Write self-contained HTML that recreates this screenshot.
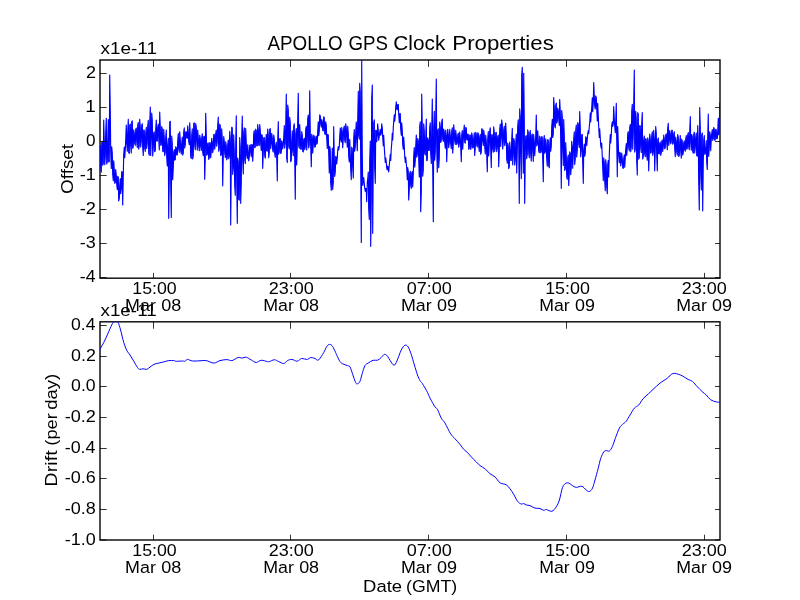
<!DOCTYPE html>
<html><head><meta charset="utf-8"><title>APOLLO GPS Clock Properties</title>
<style>html,body{margin:0;padding:0;background:#fff;width:800px;height:600px;overflow:hidden}svg{display:block;will-change:transform}text{font-family:"Liberation Sans",sans-serif}</style>
</head><body>
<svg width="800" height="600" viewBox="0 0 800 600">
<rect width="800" height="600" fill="#fff"/>
<rect x="100" y="60.0" width="620" height="218.18" fill="none" stroke="#000" stroke-width="1.39"/>
<rect x="100" y="321.82" width="620" height="218.18" fill="none" stroke="#000" stroke-width="1.39"/>
<clipPath id="c1"><rect x="100" y="60.0" width="620" height="218.18"/></clipPath>
<clipPath id="c2"><rect x="100" y="321.82" width="620" height="218.18"/></clipPath>
<path clip-path="url(#c1)" d="M100.30,144.95 L100.70,166.60 L101.30,172.09 L101.70,142.76 L102.30,141.63 L102.70,165.19 L103.30,163.52 L103.70,120.00 L104.30,141.14 L104.70,164.66 L105.30,156.85 L105.70,132.49 L106.30,118.33 L106.70,164.03 L107.30,161.68 L107.70,141.80 L108.30,119.62 L108.70,162.04 L109.30,161.50 L109.70,75.00 L110.30,109.95 L110.70,151.37 L111.30,168.42 L111.70,146.78 L112.30,153.20 L112.70,174.53 L113.30,180.75 L113.70,160.78 L114.30,170.04 L114.70,183.22 L115.30,182.63 L115.70,169.47 L116.30,175.69 L116.70,183.98 L117.30,189.57 L117.70,176.35 L118.30,177.04 L118.70,200.87 L119.30,198.69 L119.70,185.86 L120.30,178.51 L120.70,193.73 L121.30,188.79 L121.70,171.54 L122.30,172.39 L122.70,205.00 L123.30,174.88 L123.70,154.65 L124.30,147.19 L124.70,157.64 L125.30,149.40 L125.70,140.12 L126.30,125.02 L126.70,142.80 L127.30,151.16 L127.70,132.52 L128.30,119.35 L128.70,152.68 L129.30,153.34 L129.70,125.26 L130.30,124.07 L130.70,146.13 L131.30,152.86 L131.70,121.82 L132.30,120.91 L132.70,148.36 L133.30,146.78 L133.70,129.89 L134.30,133.10 L134.70,143.58 L135.30,145.36 L135.70,129.49 L136.30,128.03 L136.70,141.58 L137.30,147.41 L137.70,125.24 L138.30,122.47 L138.70,149.06 L139.30,145.47 L139.70,119.20 L140.30,127.13 L140.70,146.87 L141.30,141.22 L141.70,125.23 L142.30,123.67 L142.70,147.50 L143.30,155.47 L143.70,129.97 L144.30,130.32 L144.70,148.32 L145.30,151.41 L145.70,133.34 L146.30,127.34 L146.70,148.37 L147.30,142.60 L147.70,126.08 L148.30,120.24 L148.70,153.09 L149.30,155.27 L149.70,123.97 L150.30,107.11 L150.70,155.43 L151.30,139.54 L151.70,113.14 L152.30,120.32 L152.70,155.97 L153.30,147.49 L153.70,132.98 L154.30,131.90 L154.70,151.73 L155.30,150.72 L155.70,129.25 L156.30,119.99 L156.70,140.96 L157.30,141.18 L157.70,127.47 L158.30,124.10 L158.70,138.11 L159.30,149.81 L159.70,111.99 L160.30,127.17 L160.70,145.34 L161.30,144.80 L161.70,126.51 L162.30,129.23 L162.70,151.08 L163.30,151.75 L163.70,129.24 L164.30,137.93 L164.70,155.45 L165.30,152.31 L165.70,137.09 L166.30,129.99 L166.70,156.93 L167.30,165.88 L167.70,145.24 L168.30,138.37 L168.70,218.33 L169.30,178.08 L169.70,121.94 L170.30,121.45 L170.70,184.14 L171.30,217.50 L171.70,136.09 L172.30,143.51 L172.70,179.71 L173.30,167.17 L173.70,152.27 L174.30,149.57 L174.70,160.11 L175.30,159.58 L175.70,146.72 L176.30,147.70 L176.70,155.01 L177.30,154.86 L177.70,141.30 L178.30,133.53 L178.70,148.99 L179.30,152.36 L179.70,131.86 L180.30,139.70 L180.70,150.75 L181.30,153.87 L181.70,143.35 L182.30,136.97 L182.70,155.06 L183.30,153.14 L183.70,131.84 L184.30,127.90 L184.70,148.11 L185.30,144.61 L185.70,131.71 L186.30,131.79 L186.70,137.64 L187.30,138.41 L187.70,125.83 L188.30,132.32 L188.70,141.29 L189.30,144.75 L189.70,122.78 L190.30,135.73 L190.70,156.76 L191.30,158.45 L191.70,135.40 L192.30,128.89 L192.70,158.92 L193.30,155.86 L193.70,123.26 L194.30,122.95 L194.70,145.32 L195.30,149.72 L195.70,123.63 L196.30,127.12 L196.70,142.08 L197.30,150.09 L197.70,130.17 L198.30,137.80 L198.70,146.26 L199.30,150.79 L199.70,135.21 L200.30,138.31 L200.70,146.72 L201.30,150.54 L201.70,137.93 L202.30,133.77 L202.70,152.17 L203.30,155.77 L203.70,136.69 L204.30,136.27 L204.70,179.17 L205.30,157.80 L205.70,113.33 L206.30,134.20 L206.70,155.20 L207.30,154.65 L207.70,143.23 L208.30,143.04 L208.70,159.32 L209.30,157.96 L209.70,142.62 L210.30,142.94 L210.70,157.68 L211.30,151.10 L211.70,138.39 L212.30,142.32 L212.70,152.68 L213.30,148.76 L213.70,134.80 L214.30,134.31 L214.70,149.16 L215.30,144.26 L215.70,133.51 L216.30,130.19 L216.70,146.18 L217.30,141.69 L217.70,125.66 L218.30,117.19 L218.70,151.26 L219.30,149.11 L219.70,124.11 L220.30,125.64 L220.70,155.48 L221.30,154.36 L221.70,128.88 L222.30,139.73 L222.70,185.83 L223.30,155.74 L223.70,136.60 L224.30,141.18 L224.70,153.00 L225.30,157.53 L225.70,141.79 L226.30,145.59 L226.70,159.83 L227.30,157.53 L227.70,144.93 L228.30,140.10 L228.70,158.69 L229.30,155.47 L229.70,131.43 L230.30,138.21 L230.70,225.00 L231.30,161.16 L231.70,127.28 L232.30,127.87 L232.70,174.34 L233.30,167.67 L233.70,134.76 L234.30,150.99 L234.70,186.29 L235.30,195.23 L235.70,144.29 L236.30,115.83 L236.70,179.76 L237.30,223.33 L237.70,157.97 L238.30,161.85 L238.70,199.56 L239.30,200.18 L239.70,137.62 L240.30,147.39 L240.70,203.33 L241.30,182.09 L241.70,137.00 L242.30,116.17 L242.70,160.57 L243.30,173.96 L243.70,132.48 L244.30,127.71 L244.70,159.89 L245.30,163.62 L245.70,128.45 L246.30,143.57 L246.70,155.33 L247.30,158.65 L247.70,144.81 L248.30,152.17 L248.70,160.80 L249.30,157.05 L249.70,145.44 L250.30,144.87 L250.70,152.65 L251.30,156.73 L251.70,144.46 L252.30,144.74 L252.70,161.27 L253.30,150.15 L253.70,133.66 L254.30,130.64 L254.70,147.60 L255.30,147.17 L255.70,129.15 L256.30,130.55 L256.70,145.73 L257.30,146.02 L257.70,124.66 L258.30,129.29 L258.70,145.12 L259.30,145.47 L259.70,124.63 L260.30,130.67 L260.70,143.75 L261.30,150.34 L261.70,134.54 L262.30,135.85 L262.70,168.33 L263.30,151.97 L263.70,137.74 L264.30,137.51 L264.70,155.78 L265.30,158.12 L265.70,141.25 L266.30,134.38 L266.70,150.85 L267.30,151.22 L267.70,129.07 L268.30,134.67 L268.70,157.65 L269.30,152.52 L269.70,129.38 L270.30,128.70 L270.70,148.65 L271.30,143.69 L271.70,133.22 L272.30,137.94 L272.70,150.39 L273.30,152.07 L273.70,135.12 L274.30,138.54 L274.70,153.62 L275.30,157.31 L275.70,145.31 L276.30,142.38 L276.70,157.32 L277.30,180.83 L277.70,141.16 L278.30,121.67 L278.70,154.10 L279.30,151.53 L279.70,138.82 L280.30,138.65 L280.70,153.45 L281.30,152.73 L281.70,140.74 L282.30,143.02 L282.70,148.82 L283.30,144.73 L283.70,137.90 L284.30,125.61 L284.70,148.09 L285.30,142.82 L285.70,126.47 L286.30,94.17 L286.70,158.69 L287.30,162.42 L287.70,105.07 L288.30,109.71 L288.70,146.27 L289.30,148.92 L289.70,117.29 L290.30,122.58 L290.70,161.60 L291.30,160.58 L291.70,141.51 L292.30,130.87 L292.70,150.44 L293.30,155.70 L293.70,126.42 L294.30,123.73 L294.70,158.26 L295.30,199.17 L295.70,134.31 L296.30,128.55 L296.70,164.88 L297.30,145.37 L297.70,120.15 L298.30,93.33 L298.70,145.69 L299.30,148.25 L299.70,124.58 L300.30,136.14 L300.70,149.30 L301.30,149.24 L301.70,131.54 L302.30,135.23 L302.70,151.33 L303.30,151.88 L303.70,139.41 L304.30,138.35 L304.70,149.60 L305.30,147.01 L305.70,128.85 L306.30,126.35 L306.70,149.92 L307.30,140.53 L307.70,118.56 L308.30,114.99 L308.70,147.91 L309.30,144.77 L309.70,90.83 L310.30,133.01 L310.70,145.63 L311.30,166.67 L311.70,134.21 L312.30,136.98 L312.70,153.06 L313.30,144.66 L313.70,135.30 L314.30,136.27 L314.70,147.07 L315.30,146.88 L315.70,137.91 L316.30,136.01 L316.70,144.11 L317.30,143.04 L317.70,130.84 L318.30,121.82 L318.70,135.78 L319.30,131.43 L319.70,114.90 L320.30,116.08 L320.70,123.83 L321.30,127.18 L321.70,119.48 L322.30,121.79 L322.70,130.48 L323.30,130.81 L323.70,116.87 L324.30,117.90 L324.70,133.57 L325.30,134.62 L325.70,121.77 L326.30,125.15 L326.70,137.62 L327.30,148.49 L327.70,134.55 L328.30,134.89 L328.70,153.90 L329.30,173.10 L329.70,146.25 L330.30,149.79 L330.70,182.98 L331.30,190.23 L331.70,171.19 L332.30,148.13 L332.70,189.55 L333.30,182.51 L333.70,126.67 L334.30,157.63 L334.70,176.48 L335.30,171.78 L335.70,156.38 L336.30,157.58 L336.70,163.85 L337.30,157.59 L337.70,150.33 L338.30,146.54 L338.70,149.84 L339.30,146.19 L339.70,136.91 L340.30,128.05 L340.70,139.33 L341.30,142.19 L341.70,127.60 L342.30,131.24 L342.70,147.62 L343.30,138.83 L343.70,128.11 L344.30,126.15 L344.70,140.44 L345.30,142.73 L345.70,123.86 L346.30,127.80 L346.70,138.05 L347.30,147.26 L347.70,126.23 L348.30,133.38 L348.70,156.55 L349.30,161.84 L349.70,139.22 L350.30,154.48 L350.70,169.57 L351.30,179.65 L351.70,147.19 L352.30,149.22 L352.70,167.59 L353.30,178.05 L353.70,138.09 L354.30,129.66 L354.70,151.24 L355.30,146.37 L355.70,132.18 L356.30,122.04 L356.70,140.00 L357.30,150.69 L357.70,119.71 L358.30,91.43 L358.70,135.65 L359.30,139.19 L359.70,83.24 L360.30,91.62 L360.70,164.00 L361.30,242.50 L361.70,60.00 L362.30,154.59 L362.70,185.37 L363.30,179.91 L363.70,177.56 L364.30,183.92 L364.70,187.89 L365.30,191.33 L365.70,188.23 L366.30,189.16 L366.70,201.67 L367.30,182.08 L367.70,179.26 L368.30,172.00 L368.70,208.99 L369.30,219.37 L369.70,161.09 L370.30,141.12 L370.70,246.33 L371.30,198.12 L371.70,98.33 L372.30,85.00 L372.70,233.33 L373.30,158.21 L373.70,123.15 L374.30,119.88 L374.70,169.32 L375.30,183.33 L375.70,130.22 L376.30,130.50 L376.70,141.79 L377.30,135.09 L377.70,123.74 L378.30,130.95 L378.70,140.17 L379.30,136.01 L379.70,132.46 L380.30,129.45 L380.70,135.23 L381.30,133.22 L381.70,123.78 L382.30,127.98 L382.70,136.96 L383.30,145.64 L383.70,135.39 L384.30,147.73 L384.70,154.11 L385.30,162.45 L385.70,157.75 L386.30,162.12 L386.70,167.77 L387.30,170.01 L387.70,166.09 L388.30,167.98 L388.70,171.83 L389.30,164.96 L389.70,161.27 L390.30,154.32 L390.70,160.40 L391.30,148.30 L391.70,144.21 L392.30,133.37 L392.70,139.90 L393.30,127.38 L393.70,121.76 L394.30,114.77 L394.70,121.20 L395.30,115.64 L395.70,107.59 L396.30,101.94 L396.70,108.70 L397.30,109.79 L397.70,104.49 L398.30,104.45 L398.70,113.90 L399.30,122.84 L399.70,113.70 L400.30,113.67 L400.70,129.21 L401.30,135.24 L401.70,122.94 L402.30,130.83 L402.70,144.68 L403.30,149.09 L403.70,137.06 L404.30,146.55 L404.70,156.53 L405.30,162.39 L405.70,157.07 L406.30,163.75 L406.70,167.74 L407.30,179.62 L407.70,167.47 L408.30,171.33 L408.70,200.00 L409.30,189.60 L409.70,173.74 L410.30,171.27 L410.70,185.51 L411.30,188.43 L411.70,172.95 L412.30,171.67 L412.70,187.01 L413.30,174.46 L413.70,155.78 L414.30,147.55 L414.70,167.11 L415.30,160.66 L415.70,146.52 L416.30,135.04 L416.70,157.15 L417.30,154.60 L417.70,138.53 L418.30,140.57 L418.70,158.50 L419.30,177.08 L419.70,126.27 L420.30,121.84 L420.70,211.67 L421.30,192.55 L421.70,94.17 L422.30,127.05 L422.70,176.28 L423.30,170.14 L423.70,123.73 L424.30,130.88 L424.70,153.78 L425.30,155.06 L425.70,137.30 L426.30,119.17 L426.70,160.59 L427.30,160.18 L427.70,137.88 L428.30,140.27 L428.70,150.44 L429.30,150.43 L429.70,127.23 L430.30,122.94 L430.70,153.43 L431.30,163.46 L431.70,131.64 L432.30,99.17 L432.70,168.10 L433.30,221.67 L433.70,128.37 L434.30,111.36 L434.70,160.19 L435.30,152.17 L435.70,119.58 L436.30,79.17 L436.70,146.49 L437.30,172.21 L437.70,130.69 L438.30,128.86 L438.70,167.67 L439.30,157.94 L439.70,122.13 L440.30,126.55 L440.70,142.47 L441.30,140.24 L441.70,121.91 L442.30,118.96 L442.70,138.83 L443.30,141.46 L443.70,129.12 L444.30,132.04 L444.70,142.48 L445.30,148.25 L445.70,130.07 L446.30,135.08 L446.70,161.67 L447.30,143.05 L447.70,129.36 L448.30,134.59 L448.70,147.68 L449.30,142.92 L449.70,129.44 L450.30,135.40 L450.70,143.95 L451.30,148.70 L451.70,131.27 L452.30,127.73 L452.70,153.07 L453.30,144.41 L453.70,124.82 L454.30,131.00 L454.70,140.96 L455.30,144.45 L455.70,130.33 L456.30,135.82 L456.70,144.43 L457.30,142.98 L457.70,135.21 L458.30,133.19 L458.70,147.15 L459.30,143.71 L459.70,131.96 L460.30,137.94 L460.70,147.12 L461.30,161.67 L461.70,135.49 L462.30,130.58 L462.70,149.27 L463.30,139.77 L463.70,131.44 L464.30,125.14 L464.70,142.18 L465.30,143.12 L465.70,127.56 L466.30,127.92 L466.70,139.77 L467.30,139.96 L467.70,134.07 L468.30,134.42 L468.70,149.30 L469.30,148.18 L469.70,135.06 L470.30,135.08 L470.70,149.51 L471.30,146.33 L471.70,132.90 L472.30,135.60 L472.70,147.93 L473.30,147.61 L473.70,138.41 L474.30,132.78 L474.70,155.49 L475.30,147.42 L475.70,132.37 L476.30,134.02 L476.70,145.29 L477.30,146.89 L477.70,132.87 L478.30,133.26 L478.70,146.75 L479.30,151.46 L479.70,136.89 L480.30,134.37 L480.70,154.14 L481.30,152.35 L481.70,128.75 L482.30,128.97 L482.70,141.16 L483.30,145.51 L483.70,130.20 L484.30,134.83 L484.70,146.49 L485.30,154.01 L485.70,135.38 L486.30,141.44 L486.70,154.85 L487.30,171.67 L487.70,139.26 L488.30,131.53 L488.70,155.92 L489.30,145.06 L489.70,130.86 L490.30,127.83 L490.70,149.76 L491.30,167.50 L491.70,134.69 L492.30,134.91 L492.70,148.57 L493.30,152.19 L493.70,126.76 L494.30,132.58 L494.70,151.43 L495.30,147.37 L495.70,132.77 L496.30,132.46 L496.70,151.75 L497.30,146.93 L497.70,136.40 L498.30,135.18 L498.70,166.67 L499.30,150.26 L499.70,129.71 L500.30,124.12 L500.70,146.53 L501.30,137.20 L501.70,119.95 L502.30,124.58 L502.70,148.96 L503.30,141.97 L503.70,130.19 L504.30,126.42 L504.70,145.56 L505.30,142.69 L505.70,122.96 L506.30,134.50 L506.70,159.19 L507.30,163.23 L507.70,143.05 L508.30,145.78 L508.70,168.59 L509.30,166.90 L509.70,142.12 L510.30,149.58 L510.70,160.48 L511.30,160.48 L511.70,139.43 L512.30,128.33 L512.70,164.81 L513.30,154.47 L513.70,138.51 L514.30,140.62 L514.70,165.10 L515.30,160.40 L515.70,143.63 L516.30,134.16 L516.70,173.05 L517.30,150.70 L517.70,126.34 L518.30,119.81 L518.70,145.31 L519.30,203.33 L519.70,108.75 L520.30,116.82 L520.70,155.69 L521.30,178.56 L521.70,74.74 L522.30,67.31 L522.70,139.69 L523.30,173.25 L523.70,73.33 L524.30,120.89 L524.70,203.33 L525.30,152.77 L525.70,136.47 L526.30,135.69 L526.70,158.78 L527.30,154.34 L527.70,129.83 L528.30,132.40 L528.70,152.83 L529.30,157.70 L529.70,133.09 L530.30,130.51 L530.70,154.44 L531.30,161.01 L531.70,135.37 L532.30,134.04 L532.70,150.70 L533.30,161.34 L533.70,134.45 L534.30,142.52 L534.70,155.76 L535.30,146.78 L535.70,136.52 L536.30,115.00 L536.70,145.92 L537.30,143.96 L537.70,130.83 L538.30,140.63 L538.70,151.06 L539.30,152.78 L539.70,136.10 L540.30,138.26 L540.70,152.62 L541.30,151.79 L541.70,136.66 L542.30,136.93 L542.70,158.99 L543.30,181.67 L543.70,139.98 L544.30,135.53 L544.70,153.23 L545.30,151.68 L545.70,138.91 L546.30,144.24 L546.70,158.94 L547.30,166.11 L547.70,139.61 L548.30,140.06 L548.70,165.80 L549.30,167.76 L549.70,144.17 L550.30,137.86 L550.70,151.30 L551.30,146.53 L551.70,127.21 L552.30,119.36 L552.70,137.53 L553.30,134.17 L553.70,97.50 L554.30,106.93 L554.70,126.10 L555.30,127.86 L555.70,105.45 L556.30,103.10 L556.70,123.16 L557.30,121.61 L557.70,108.01 L558.30,110.53 L558.70,118.84 L559.30,125.35 L559.70,99.46 L560.30,111.82 L560.70,139.31 L561.30,188.33 L561.70,110.46 L562.30,116.52 L562.70,148.97 L563.30,165.37 L563.70,119.62 L564.30,135.92 L564.70,170.54 L565.30,168.92 L565.70,142.67 L566.30,155.77 L566.70,176.53 L567.30,179.31 L567.70,157.81 L568.30,155.08 L568.70,185.54 L569.30,173.51 L569.70,151.78 L570.30,153.48 L570.70,174.70 L571.30,167.42 L571.70,141.40 L572.30,146.51 L572.70,168.29 L573.30,155.28 L573.70,138.53 L574.30,131.89 L574.70,164.54 L575.30,158.94 L575.70,130.31 L576.30,125.01 L576.70,156.99 L577.30,150.39 L577.70,122.66 L578.30,123.72 L578.70,144.16 L579.30,147.65 L579.70,111.67 L580.30,128.11 L580.70,156.78 L581.30,150.77 L581.70,134.83 L582.30,134.53 L582.70,163.03 L583.30,183.33 L583.70,150.01 L584.30,144.01 L584.70,156.17 L585.30,153.18 L585.70,136.82 L586.30,137.87 L586.70,145.58 L587.30,139.26 L587.70,134.11 L588.30,130.71 L588.70,133.72 L589.30,126.59 L589.70,123.03 L590.30,112.95 L590.70,121.67 L591.30,112.75 L591.70,108.12 L592.30,97.88 L592.70,111.63 L593.30,102.32 L593.70,82.50 L594.30,96.64 L594.70,105.88 L595.30,109.02 L595.70,95.91 L596.30,97.59 L596.70,108.84 L597.30,120.87 L597.70,103.40 L598.30,116.52 L598.70,126.94 L599.30,137.44 L599.70,128.92 L600.30,138.28 L600.70,145.10 L601.30,148.28 L601.70,143.18 L602.30,156.97 L602.70,167.42 L603.30,180.56 L603.70,157.85 L604.30,162.39 L604.70,180.90 L605.30,190.63 L605.70,159.70 L606.30,164.91 L606.70,187.02 L607.30,193.79 L607.70,164.94 L608.30,160.45 L608.70,176.89 L609.30,154.99 L609.70,144.41 L610.30,134.54 L610.70,142.90 L611.30,135.19 L611.70,125.36 L612.30,121.93 L612.70,126.36 L613.30,123.52 L613.70,106.67 L614.30,118.88 L614.70,126.21 L615.30,132.71 L615.70,121.74 L616.30,103.33 L616.70,137.90 L617.30,176.67 L617.70,126.53 L618.30,143.18 L618.70,155.79 L619.30,162.76 L619.70,152.26 L620.30,153.30 L620.70,165.85 L621.30,161.96 L621.70,153.15 L622.30,158.43 L622.70,168.02 L623.30,168.32 L623.70,158.87 L624.30,154.78 L624.70,167.19 L625.30,157.82 L625.70,149.21 L626.30,143.60 L626.70,155.38 L627.30,148.25 L627.70,133.67 L628.30,131.59 L628.70,147.65 L629.30,150.94 L629.70,127.37 L630.30,124.25 L630.70,151.70 L631.30,147.19 L631.70,111.32 L632.30,104.28 L632.70,149.14 L633.30,132.94 L633.70,104.24 L634.30,70.00 L634.70,152.07 L635.30,149.68 L635.70,111.39 L636.30,119.43 L636.70,160.89 L637.30,175.00 L637.70,112.58 L638.30,114.19 L638.70,159.15 L639.30,157.44 L639.70,125.50 L640.30,125.92 L640.70,147.62 L641.30,152.47 L641.70,123.25 L642.30,112.50 L642.70,159.00 L643.30,156.58 L643.70,140.44 L644.30,136.13 L644.70,154.17 L645.30,156.70 L645.70,138.54 L646.30,139.71 L646.70,155.50 L647.30,160.27 L647.70,137.82 L648.30,140.62 L648.70,170.83 L649.30,152.16 L649.70,133.96 L650.30,138.51 L650.70,153.28 L651.30,152.14 L651.70,135.55 L652.30,131.76 L652.70,155.33 L653.30,151.89 L653.70,130.35 L654.30,139.11 L654.70,170.83 L655.30,149.50 L655.70,126.58 L656.30,133.28 L656.70,154.57 L657.30,170.83 L657.70,139.86 L658.30,137.96 L658.70,153.65 L659.30,153.80 L659.70,143.56 L660.30,142.07 L660.70,155.32 L661.30,152.80 L661.70,142.01 L662.30,139.95 L662.70,151.39 L663.30,146.87 L663.70,135.18 L664.30,138.56 L664.70,148.67 L665.30,147.60 L665.70,135.30 L666.30,133.76 L666.70,142.62 L667.30,149.76 L667.70,127.93 L668.30,123.40 L668.70,145.34 L669.30,140.83 L669.70,130.50 L670.30,133.94 L670.70,143.80 L671.30,142.02 L671.70,130.34 L672.30,130.29 L672.70,144.14 L673.30,143.26 L673.70,133.67 L674.30,131.84 L674.70,148.36 L675.30,156.56 L675.70,136.99 L676.30,141.08 L676.70,151.93 L677.30,155.14 L677.70,134.55 L678.30,136.84 L678.70,156.37 L679.30,155.19 L679.70,142.06 L680.30,135.55 L680.70,151.09 L681.30,158.07 L681.70,139.06 L682.30,141.40 L682.70,155.11 L683.30,152.84 L683.70,143.16 L684.30,140.91 L684.70,150.01 L685.30,151.14 L685.70,139.03 L686.30,135.63 L686.70,149.12 L687.30,148.61 L687.70,134.82 L688.30,132.53 L688.70,147.09 L689.30,149.66 L689.70,131.86 L690.30,116.67 L690.70,142.90 L691.30,150.09 L691.70,134.46 L692.30,136.64 L692.70,151.48 L693.30,153.24 L693.70,134.39 L694.30,132.19 L694.70,152.92 L695.30,147.37 L695.70,136.98 L696.30,133.14 L696.70,155.63 L697.30,156.12 L697.70,125.51 L698.30,139.05 L698.70,181.40 L699.30,210.00 L699.70,107.50 L700.30,127.46 L700.70,174.30 L701.30,190.04 L701.70,134.62 L702.30,133.06 L702.70,210.83 L703.30,161.40 L703.70,140.02 L704.30,135.53 L704.70,154.30 L705.30,154.06 L705.70,148.87 L706.30,140.67 L706.70,162.30 L707.30,169.51 L707.70,138.52 L708.30,114.17 L708.70,156.33 L709.30,147.64 L709.70,131.75 L710.30,135.41 L710.70,150.79 L711.30,139.37 L711.70,133.50 L712.30,129.60 L712.70,140.35 L713.30,138.46 L713.70,127.49 L714.30,129.01 L714.70,140.28 L715.30,140.07 L715.70,129.26 L716.30,129.83 L716.70,138.64 L717.30,138.48 L717.70,131.82 L718.30,118.23 L718.70,134.66 L719.30,133.22 L719.70,102.50" fill="none" stroke="#00f" stroke-width="1.15" stroke-linejoin="round"/>
<path clip-path="url(#c2)" d="M100.00,349.40 C100.83,347.83 103.33,343.44 105.00,340.00 C106.67,336.56 108.65,331.67 110.00,328.75 C111.35,325.83 112.17,323.71 113.10,322.50 C114.03,321.29 114.77,321.50 115.60,321.50 C116.43,321.50 117.27,321.08 118.10,322.50 C118.93,323.92 119.66,326.67 120.60,330.00 C121.54,333.33 122.70,339.07 123.75,342.50 C124.80,345.93 125.86,348.52 126.90,350.60 C127.94,352.68 128.86,353.23 130.00,355.00 C131.14,356.77 132.50,359.17 133.75,361.25 C135.00,363.33 136.46,366.14 137.50,367.50 C138.54,368.86 139.07,369.19 140.00,369.40 C140.93,369.61 142.06,368.75 143.10,368.75 C144.14,368.75 145.31,369.51 146.25,369.40 C147.19,369.29 147.50,368.93 148.75,368.10 C150.00,367.27 152.08,365.23 153.75,364.40 C155.42,363.57 157.08,363.52 158.75,363.10 C160.42,362.68 162.08,362.32 163.75,361.90 C165.42,361.48 167.08,360.82 168.75,360.60 C170.42,360.38 172.50,360.49 173.75,360.60 C175.00,360.71 174.79,361.18 176.25,361.25 C177.71,361.32 181.04,361.00 182.50,361.00 C183.96,361.00 184.17,361.52 185.00,361.25 C185.83,360.98 186.25,359.44 187.50,359.40 C188.75,359.36 190.42,360.77 192.50,361.00 C194.58,361.23 197.71,360.87 200.00,360.80 C202.29,360.73 203.96,360.22 206.25,360.60 C208.54,360.98 211.46,363.10 213.75,363.10 C216.04,363.10 217.81,361.18 220.00,360.60 C222.19,360.02 224.92,359.60 226.90,359.60 C228.88,359.60 230.03,360.95 231.90,360.60 C233.77,360.25 236.43,357.92 238.10,357.50 C239.77,357.08 240.54,358.14 241.90,358.10 C243.26,358.06 244.69,356.93 246.25,357.25 C247.81,357.57 249.58,359.12 251.25,360.00 C252.92,360.88 254.58,362.46 256.25,362.50 C257.92,362.54 259.38,360.40 261.25,360.25 C263.12,360.10 266.14,361.38 267.50,361.60 C268.86,361.83 268.25,361.91 269.40,361.60 C270.55,361.29 272.84,359.75 274.40,359.75 C275.96,359.75 277.19,360.98 278.75,361.60 C280.31,362.23 282.29,363.67 283.75,363.50 C285.21,363.33 286.14,361.28 287.50,360.60 C288.86,359.92 290.33,359.29 291.90,359.40 C293.47,359.51 295.55,361.25 296.90,361.25 C298.25,361.25 299.17,359.86 300.00,359.40 C300.83,358.94 300.65,358.50 301.90,358.50 C303.15,358.50 306.05,359.57 307.50,359.40 C308.95,359.23 309.35,357.65 310.60,357.50 C311.85,357.35 313.68,358.08 315.00,358.50 C316.32,358.92 317.04,361.00 318.50,360.00 C319.96,359.00 322.35,354.79 323.75,352.50 C325.15,350.21 325.90,347.60 326.90,346.25 C327.90,344.90 328.82,344.40 329.75,344.40 C330.68,344.40 331.52,344.90 332.50,346.25 C333.48,347.60 334.45,350.11 335.60,352.50 C336.75,354.89 338.25,358.73 339.40,360.60 C340.55,362.48 341.15,362.92 342.50,363.75 C343.85,364.58 346.25,365.08 347.50,365.60 C348.75,366.12 349.17,365.54 350.00,366.90 C350.83,368.26 351.57,371.15 352.50,373.75 C353.43,376.35 354.77,380.83 355.60,382.50 C356.43,384.17 356.77,383.96 357.50,383.75 C358.23,383.54 359.17,383.12 360.00,381.25 C360.83,379.38 361.67,375.11 362.50,372.50 C363.33,369.89 364.07,367.17 365.00,365.60 C365.93,364.03 366.75,363.99 368.10,363.10 C369.45,362.21 371.53,360.73 373.10,360.25 C374.67,359.77 376.14,360.71 377.50,360.25 C378.86,359.79 380.10,358.48 381.25,357.50 C382.40,356.52 383.36,354.61 384.40,354.40 C385.44,354.19 386.05,354.52 387.50,356.25 C388.95,357.98 391.64,363.71 393.10,364.75 C394.56,365.79 394.89,364.96 396.25,362.50 C397.61,360.04 399.79,352.88 401.25,350.00 C402.71,347.12 403.86,345.77 405.00,345.25 C406.14,344.73 407.06,345.38 408.10,346.90 C409.14,348.42 410.20,351.38 411.25,354.40 C412.30,357.42 413.36,361.57 414.40,365.00 C415.44,368.43 416.57,372.40 417.50,375.00 C418.43,377.60 419.17,379.14 420.00,380.60 C420.83,382.06 421.25,381.77 422.50,383.75 C423.75,385.73 426.25,390.11 427.50,392.50 C428.75,394.89 428.75,395.70 430.00,398.10 C431.25,400.50 433.75,405.02 435.00,406.90 C436.25,408.78 436.46,407.53 437.50,409.40 C438.54,411.27 440.00,415.82 441.25,418.10 C442.50,420.38 443.44,420.49 445.00,423.10 C446.56,425.71 448.93,431.14 450.60,433.75 C452.27,436.36 453.43,436.98 455.00,438.75 C456.57,440.52 458.54,442.62 460.00,444.40 C461.46,446.17 462.50,448.05 463.75,449.40 C465.00,450.75 466.25,451.25 467.50,452.50 C468.75,453.75 469.79,455.33 471.25,456.90 C472.71,458.47 474.79,460.45 476.25,461.90 C477.71,463.35 478.54,464.46 480.00,465.60 C481.46,466.74 483.33,467.39 485.00,468.75 C486.67,470.11 488.33,472.39 490.00,473.75 C491.67,475.11 493.33,475.40 495.00,476.90 C496.67,478.40 498.12,481.44 500.00,482.75 C501.88,484.06 504.58,483.75 506.25,484.75 C507.92,485.75 508.75,487.14 510.00,488.75 C511.25,490.36 512.50,492.32 513.75,494.40 C515.00,496.48 516.25,499.65 517.50,501.25 C518.75,502.85 520.21,503.62 521.25,504.00 C522.29,504.38 522.92,503.33 523.75,503.50 C524.58,503.67 525.21,504.65 526.25,505.00 C527.29,505.35 528.54,505.08 530.00,505.60 C531.46,506.12 533.33,507.62 535.00,508.10 C536.67,508.58 538.54,508.12 540.00,508.50 C541.46,508.88 542.71,510.23 543.75,510.40 C544.79,510.57 544.89,509.36 546.25,509.50 C547.61,509.64 550.23,511.68 551.90,511.25 C553.57,510.82 555.00,508.77 556.25,506.90 C557.50,505.02 558.36,503.23 559.40,500.00 C560.44,496.77 561.47,490.27 562.50,487.50 C563.53,484.73 564.56,484.13 565.60,483.40 C566.64,482.67 567.60,482.73 568.75,483.10 C569.90,483.47 571.25,484.88 572.50,485.60 C573.75,486.32 574.68,487.29 576.25,487.40 C577.82,487.51 580.23,485.82 581.90,486.25 C583.57,486.68 585.00,489.12 586.25,490.00 C587.50,490.88 588.36,491.82 589.40,491.50 C590.44,491.18 591.57,490.02 592.50,488.10 C593.43,486.18 594.07,483.23 595.00,480.00 C595.93,476.77 597.17,472.29 598.10,468.75 C599.03,465.21 599.66,461.56 600.60,458.75 C601.54,455.94 602.81,453.26 603.75,451.90 C604.69,450.54 605.31,450.75 606.25,450.60 C607.19,450.45 608.36,451.73 609.40,451.00 C610.44,450.27 611.47,448.50 612.50,446.25 C613.53,444.00 614.45,440.52 615.60,437.50 C616.75,434.48 618.25,430.28 619.40,428.10 C620.55,425.92 621.36,425.54 622.50,424.40 C623.64,423.26 625.00,422.82 626.25,421.25 C627.50,419.68 628.64,417.19 630.00,415.00 C631.36,412.81 632.94,409.77 634.40,408.10 C635.86,406.43 637.30,406.56 638.75,405.00 C640.20,403.44 641.43,400.67 643.10,398.75 C644.77,396.83 647.08,395.06 648.75,393.50 C650.42,391.94 651.23,391.13 653.10,389.40 C654.98,387.67 657.60,384.98 660.00,383.10 C662.40,381.22 665.62,379.55 667.50,378.10 C669.38,376.65 670.10,375.18 671.25,374.40 C672.40,373.62 673.15,373.40 674.40,373.40 C675.65,373.40 677.40,373.97 678.75,374.40 C680.10,374.83 680.94,375.17 682.50,376.00 C684.06,376.83 686.43,378.48 688.10,379.40 C689.77,380.32 690.93,380.25 692.50,381.50 C694.07,382.75 695.83,385.17 697.50,386.90 C699.17,388.63 701.04,390.55 702.50,391.90 C703.96,393.25 704.90,393.69 706.25,395.00 C707.60,396.31 708.93,398.60 710.60,399.75 C712.27,400.90 714.68,401.48 716.25,401.90 C717.82,402.32 719.38,402.19 720.00,402.25" fill="none" stroke="#00f" stroke-width="1.0" stroke-linejoin="round"/>
<path d="M153.5,278.18V272.88M153.5,60.0V66.9M290.5,278.18V272.88M290.5,60.0V66.9M428.5,278.18V272.88M428.5,60.0V66.9M566.5,278.18V272.88M566.5,60.0V66.9M704.5,278.18V272.88M704.5,60.0V66.9M153.5,540.0V534.7M153.5,321.82V328.71999999999997M290.5,540.0V534.7M290.5,321.82V328.71999999999997M428.5,540.0V534.7M428.5,321.82V328.71999999999997M566.5,540.0V534.7M566.5,321.82V328.71999999999997M704.5,540.0V534.7M704.5,321.82V328.71999999999997M100,277.5H106.7M720,277.5H715.0M100,243.5H106.7M720,243.5H715.0M100,209.5H106.7M720,209.5H715.0M100,175.5H106.7M720,175.5H715.0M100,141.5H106.7M720,141.5H715.0M100,107.5H106.7M720,107.5H715.0M100,73.5H106.7M720,73.5H715.0M100,540H106.7M720,540H715.0M100,509.5H106.7M720,509.5H715.0M100,478.5H106.7M720,478.5H715.0M100,448.5H106.7M720,448.5H715.0M100,417.5H106.7M720,417.5H715.0M100,386.5H106.7M720,386.5H715.0M100,356.5H106.7M720,356.5H715.0M100,325.5H106.7M720,325.5H715.0" stroke="#000" stroke-width="0.8" fill="none"/>
<g font-family='"Liberation Sans", sans-serif' fill="#000">
<text x="267.45" y="50.00" font-size="20.3" textLength="75.33" lengthAdjust="spacingAndGlyphs">APOLLO</text>
<text x="348.47" y="50.00" font-size="20.3" textLength="39.41" lengthAdjust="spacingAndGlyphs">GPS</text>
<text x="393.36" y="50.00" font-size="20.3" textLength="51.95" lengthAdjust="spacingAndGlyphs">Clock</text>
<text x="452.36" y="50.00" font-size="20.3" textLength="101.42" lengthAdjust="spacingAndGlyphs">Properties</text>
<text x="100.46" y="54.00" font-size="17.1" textLength="56.45" lengthAdjust="spacingAndGlyphs">x1e-11</text>
<text x="100.46" y="316.00" font-size="17.1" textLength="56.25" lengthAdjust="spacingAndGlyphs">x1e-11</text>
<text x="79.80" y="282.00" font-size="17.1" textLength="15.71" lengthAdjust="spacingAndGlyphs">-4</text>
<text x="79.79" y="248.00" font-size="17.1" textLength="16.01" lengthAdjust="spacingAndGlyphs">-3</text>
<text x="79.78" y="214.00" font-size="17.1" textLength="16.16" lengthAdjust="spacingAndGlyphs">-2</text>
<text x="79.78" y="180.00" font-size="17.1" textLength="16.11" lengthAdjust="spacingAndGlyphs">-1</text>
<text x="86.11" y="146.00" font-size="17.1" textLength="9.55" lengthAdjust="spacingAndGlyphs">0</text>
<text x="85.38" y="112.00" font-size="17.1" textLength="10.54" lengthAdjust="spacingAndGlyphs">1</text>
<text x="85.90" y="78.00" font-size="17.1" textLength="10.02" lengthAdjust="spacingAndGlyphs">2</text>
<text x="64.69" y="544.50" font-size="17.1" textLength="31.00" lengthAdjust="spacingAndGlyphs">-1.0</text>
<text x="64.69" y="514.00" font-size="17.1" textLength="31.09" lengthAdjust="spacingAndGlyphs">-0.8</text>
<text x="64.69" y="483.00" font-size="17.1" textLength="31.09" lengthAdjust="spacingAndGlyphs">-0.6</text>
<text x="64.70" y="453.00" font-size="17.1" textLength="30.81" lengthAdjust="spacingAndGlyphs">-0.4</text>
<text x="64.68" y="422.00" font-size="17.1" textLength="31.23" lengthAdjust="spacingAndGlyphs">-0.2</text>
<text x="71.09" y="391.00" font-size="17.1" textLength="24.57" lengthAdjust="spacingAndGlyphs">0.0</text>
<text x="71.09" y="361.00" font-size="17.1" textLength="24.81" lengthAdjust="spacingAndGlyphs">0.2</text>
<text x="71.10" y="330.00" font-size="17.1" textLength="24.39" lengthAdjust="spacingAndGlyphs">0.4</text>
<text x="132.27" y="294.03" font-size="17.1" textLength="44.40" lengthAdjust="spacingAndGlyphs">15:00</text>
<text x="125.13" y="310.68" font-size="17.1" textLength="30.77" lengthAdjust="spacingAndGlyphs">Mar</text>
<text x="161.16" y="310.68" font-size="17.1" textLength="20.05" lengthAdjust="spacingAndGlyphs">08</text>
<text x="268.80" y="294.03" font-size="17.1" textLength="45.08" lengthAdjust="spacingAndGlyphs">23:00</text>
<text x="263.33" y="310.68" font-size="17.1" textLength="30.60" lengthAdjust="spacingAndGlyphs">Mar</text>
<text x="299.17" y="310.68" font-size="17.1" textLength="19.94" lengthAdjust="spacingAndGlyphs">08</text>
<text x="406.78" y="294.03" font-size="17.1" textLength="45.10" lengthAdjust="spacingAndGlyphs">07:00</text>
<text x="401.03" y="310.68" font-size="17.1" textLength="30.72" lengthAdjust="spacingAndGlyphs">Mar</text>
<text x="437.00" y="310.68" font-size="17.1" textLength="20.06" lengthAdjust="spacingAndGlyphs">09</text>
<text x="545.16" y="294.03" font-size="17.1" textLength="44.71" lengthAdjust="spacingAndGlyphs">15:00</text>
<text x="539.34" y="310.68" font-size="17.1" textLength="30.43" lengthAdjust="spacingAndGlyphs">Mar</text>
<text x="574.97" y="310.68" font-size="17.1" textLength="19.87" lengthAdjust="spacingAndGlyphs">09</text>
<text x="681.80" y="294.03" font-size="17.1" textLength="45.08" lengthAdjust="spacingAndGlyphs">23:00</text>
<text x="676.34" y="310.68" font-size="17.1" textLength="30.54" lengthAdjust="spacingAndGlyphs">Mar</text>
<text x="712.10" y="310.68" font-size="17.1" textLength="19.95" lengthAdjust="spacingAndGlyphs">09</text>
<text x="132.27" y="555.85" font-size="17.1" textLength="44.40" lengthAdjust="spacingAndGlyphs">15:00</text>
<text x="125.13" y="572.50" font-size="17.1" textLength="30.77" lengthAdjust="spacingAndGlyphs">Mar</text>
<text x="161.16" y="572.50" font-size="17.1" textLength="20.05" lengthAdjust="spacingAndGlyphs">08</text>
<text x="268.80" y="555.85" font-size="17.1" textLength="45.08" lengthAdjust="spacingAndGlyphs">23:00</text>
<text x="263.33" y="572.50" font-size="17.1" textLength="30.60" lengthAdjust="spacingAndGlyphs">Mar</text>
<text x="299.17" y="572.50" font-size="17.1" textLength="19.94" lengthAdjust="spacingAndGlyphs">08</text>
<text x="406.78" y="555.85" font-size="17.1" textLength="45.10" lengthAdjust="spacingAndGlyphs">07:00</text>
<text x="401.03" y="572.50" font-size="17.1" textLength="30.72" lengthAdjust="spacingAndGlyphs">Mar</text>
<text x="437.00" y="572.50" font-size="17.1" textLength="20.06" lengthAdjust="spacingAndGlyphs">09</text>
<text x="545.16" y="555.85" font-size="17.1" textLength="44.71" lengthAdjust="spacingAndGlyphs">15:00</text>
<text x="539.34" y="572.50" font-size="17.1" textLength="30.43" lengthAdjust="spacingAndGlyphs">Mar</text>
<text x="574.97" y="572.50" font-size="17.1" textLength="19.87" lengthAdjust="spacingAndGlyphs">09</text>
<text x="681.80" y="555.85" font-size="17.1" textLength="45.08" lengthAdjust="spacingAndGlyphs">23:00</text>
<text x="676.34" y="572.50" font-size="17.1" textLength="30.54" lengthAdjust="spacingAndGlyphs">Mar</text>
<text x="712.10" y="572.50" font-size="17.1" textLength="19.95" lengthAdjust="spacingAndGlyphs">09</text>
<text x="363.08" y="591.70" font-size="17.1" textLength="39.00" lengthAdjust="spacingAndGlyphs">Date</text>
<text x="406.14" y="591.70" font-size="17.1" textLength="51.06" lengthAdjust="spacingAndGlyphs">(GMT)</text>
<text x="73.20" y="193.90" font-size="17.1" textLength="50.03" lengthAdjust="spacingAndGlyphs" transform="rotate(-90 73.20 193.90)">Offset</text>
<text x="56.90" y="486.63" font-size="17.1" textLength="36.29" lengthAdjust="spacingAndGlyphs" transform="rotate(-90 56.90 486.63)">Drift</text>
<text x="56.90" y="445.64" font-size="17.1" textLength="32.43" lengthAdjust="spacingAndGlyphs" transform="rotate(-90 56.90 445.64)">(per</text>
<text x="56.90" y="409.79" font-size="17.1" textLength="35.95" lengthAdjust="spacingAndGlyphs" transform="rotate(-90 56.90 409.79)">day)</text>
</g>
</svg>
</body></html>
